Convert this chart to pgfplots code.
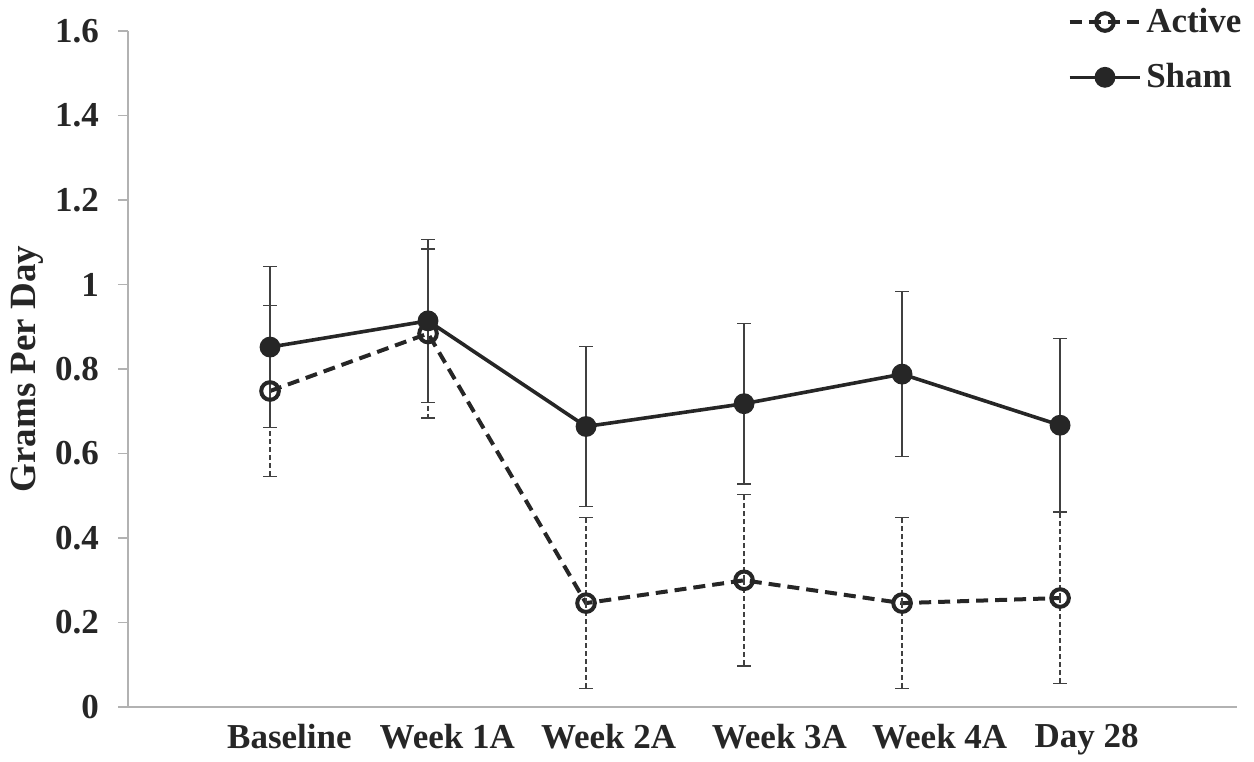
\documentclass[border=0pt]{standalone}
\usepackage{pgfplots}
\pgfplotsset{compat=1.18}
\usepackage{pgfplotstable}
\usepackage{fontspec}
\setmainfont{Liberation Serif}
\pgfplotstableread{
x y e
0 0.748 0.203
1 0.884 0.200
2 0.246 0.203
3 0.300 0.203
4 0.246 0.202
5 0.258 0.203
}\activedata
\pgfplotstableread{
x y e
0 0.852 0.190
1 0.914 0.193
2 0.664 0.190
3 0.718 0.190
4 0.788 0.195
5 0.667 0.205
}\shamdata
\newcommand{\lbl}{\bfseries\fontsize{17.5}{20}\selectfont}
\begin{document}
\begin{tikzpicture}
\begin{axis}[
  scale only axis,
  width=554.5pt, height=338pt,
  xmin=-0.899, xmax=6.12,
  ymin=0, ymax=1.6,
  ytick={0,0.2,...,1.6},
  xtick={0.123,1.122,2.143,3.224,4.238,5.168},
  xticklabels={Baseline, Week 1A, Week 2A, Week 3A, Week 4A, Day 28},
  axis x line=bottom, axis y line=left,
  axis line style={-, gray!60, line width=0.9pt},
  x tick style={draw=none},
  y tick style={gray!60, line width=0.8pt},
  tick align=outside,
  major tick length=5pt,
  /pgf/number format/assume math mode=true,
  ticklabel style={font=\lbl, text=black!85},
  xticklabel style={yshift=0pt},
  yticklabel style={xshift=-6pt},
  ylabel={Grams Per Day},
  ylabel style={font=\bfseries\fontsize{18.5}{21}\selectfont, text=black!85, at={(axis description cs:-0.0911,0.5)}, anchor=center},
  legend style={draw=none, fill=none, font=\lbl, text=black!85,
    at={(axis description cs:1.008,1.040)}, anchor=north east,
    row sep=10pt, inner sep=0pt, cells={anchor=west}},
  legend image code/.code={
    \draw[mark repeat=2,mark phase=2,#1] plot coordinates {(0cm,0cm) (0.62cm,0cm) (1.24cm,0cm)};
  },
  clip=false,
]
\path (axis description cs:-0.1154,-0.0769) rectangle (axis description cs:1.0153,1.0459);
\addplot[black!85, line width=2pt, dash pattern=on 6pt off 3.5pt,
  mark=o, mark size=4.4pt, mark options={solid, fill=white, line width=2pt},
  error bars/.cd, y dir=both, y explicit,
  error bar style={black!75, line width=0.6pt, dash pattern=on 2.5pt off 1.5pt},
  error mark options={rotate=90, mark size=3.3pt, black!75, line width=0.6pt, solid}]
  table[x=x, y=y, y error=e] {\activedata};
\addlegendentry{Active}
\addplot[black!85, line width=1.8pt, solid,
  mark=*, mark size=4.3pt, mark options={solid, fill=black!85},
  error bars/.cd, y dir=both, y explicit,
  error bar style={black!75, line width=0.6pt, solid},
  error mark options={rotate=90, mark size=3.3pt, black!75, line width=0.6pt, solid}]
  table[x=x, y=y, y error=e] {\shamdata};
\addlegendentry{Sham}
\end{axis}
\end{tikzpicture}
\end{document}
